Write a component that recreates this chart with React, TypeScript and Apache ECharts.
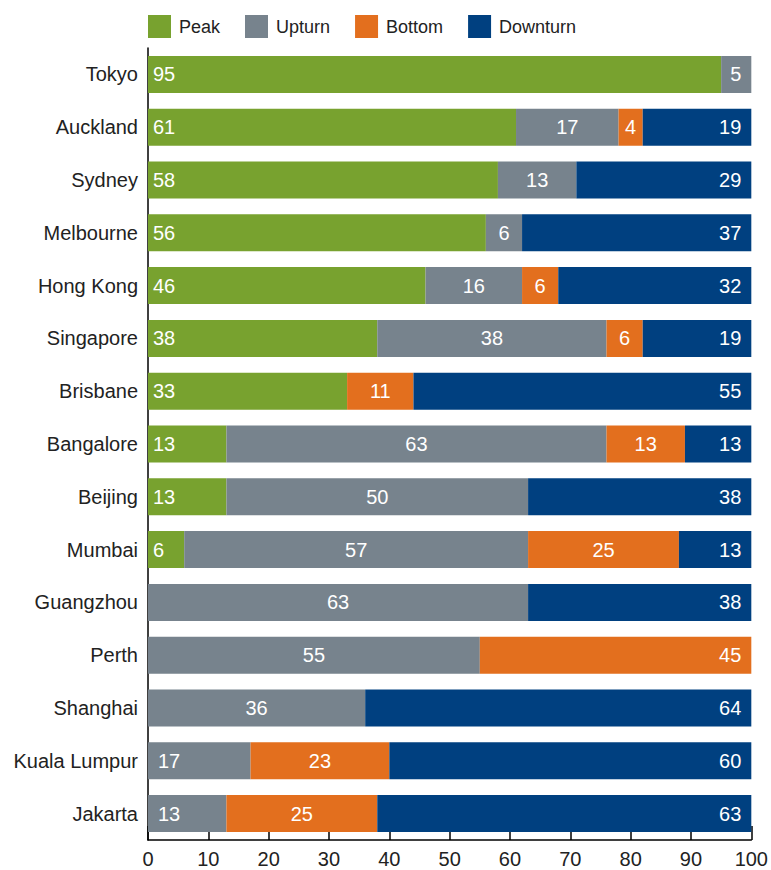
import React, { useEffect, useRef } from "react";
import * as echarts from "echarts";

const cities = [
  "Tokyo", "Auckland", "Sydney", "Melbourne", "Hong Kong", "Singapore", "Brisbane",
  "Bangalore", "Beijing", "Mumbai", "Guangzhou", "Perth", "Shanghai", "Kuala Lumpur", "Jakarta",
];
const peak = [95, 61, 58, 56, 46, 38, 33, 13, 13, 6, null, null, null, null, null];
const upturn = [5, 17, 13, 6, 16, 38, null, 63, 50, 57, 63, 55, 36, 17, 13];
const bottom = [null, 4, null, null, 6, 6, 11, 13, null, 25, null, 45, null, 23, 25];
const downturn = [null, 19, 29, 37, 32, 19, 55, 13, 38, 13, 38, null, 64, 60, 63];
const seriesNames = ["Peak", "Upturn", "Bottom", "Downturn"];
const xTicks = [0, 10, 20, 30, 40, 50, 60, 70, 80, 90, 100];

const colors = ["#78a22f", "#77838d", "#e36f1e", "#004080"];
const FONT = "'Liberation Sans', Arial, Helvetica, sans-serif";

export default function App() {
  const ref = useRef<HTMLDivElement>(null);
  useEffect(() => {
    if (!ref.current) return;
    const chart = echarts.init(ref.current, null, { renderer: "svg" });
    const all = [peak, upturn, bottom, downturn];
    const total = xTicks[xTicks.length - 1];
    const lastIdx = cities.map((_, i) => {
      let l = -1;
      all.forEach((arr, k) => { if (arr[i] != null) l = k; });
      return l;
    });
    const firstIdx = cities.map((_, i) => all.findIndex((arr) => arr[i] != null));
    // cumulative before each segment (percent shares; last segment fills the row to 100%)
    const before = cities.map((_, i) => {
      const acc: number[] = [];
      let s = 0;
      all.forEach((arr) => { acc.push(s); s += arr[i] ?? 0; });
      return acc;
    });

    const series = all.map((arr, k) => ({
      name: seriesNames[k],
      type: "bar",
      stack: "total",
      barWidth: "70%",
      itemStyle: { color: colors[k] },
      data: arr.map((v, i) => {
        if (v == null) return null;
        let position: string = "inside";
        let distance = 5;
        if (k === 0) { position = "insideLeft"; distance = 5; }
        else if (k === lastIdx[i]) { position = "insideRight"; distance = 10; }
        else if (k === firstIdx[i] && v < 20) { position = "insideLeft"; distance = 10; }
        const len = k === lastIdx[i] ? total - before[i][k] : v;
        return {
          value: len,
          raw: v,
          label: { position, distance },
        };
      }),
      label: {
        show: true,
        color: "#ffffff",
        fontSize: 20,
        fontFamily: FONT,
        formatter: (p: any) => String(p.data.raw),
      },
    }));

    chart.setOption({
      animation: false,
      textStyle: { fontFamily: FONT },
      legend: {
        data: seriesNames,
        left: 143,
        top: 10,
        itemWidth: 23,
        itemHeight: 23,
        itemGap: 25,
        icon: "rect",
        textStyle: { fontSize: 18, color: "#222", fontFamily: FONT, padding: [0, 0, 0, 3] },
      },
      grid: { left: 148, right: 19, top: 48, bottom: 30, containLabel: false },
      xAxis: {
        type: "value",
        min: xTicks[0],
        max: total,
        interval: 10,
        axisLine: { show: true, lineStyle: { color: "#000", width: 1.5 } },
        axisTick: { show: true, inside: true, length: 14, lineStyle: { color: "#000", width: 1.5 } },
        axisLabel: { fontSize: 20, color: "#222", margin: 9, fontFamily: FONT },
        splitLine: { show: false },
      },
      yAxis: {
        type: "category",
        data: cities,
        inverse: true,
        axisLine: { show: true, lineStyle: { color: "#000", width: 1.5 } },
        axisTick: { show: false },
        axisLabel: { fontSize: 20, color: "#222", margin: 10, fontFamily: FONT },
      },
      series,
    });
    return () => chart.dispose();
  }, []);
  return (
    <div
      ref={ref}
      style={{ position: "fixed", left: 0, top: 0, width: 771, height: 870, background: "#fff" }}
    />
  );
}
